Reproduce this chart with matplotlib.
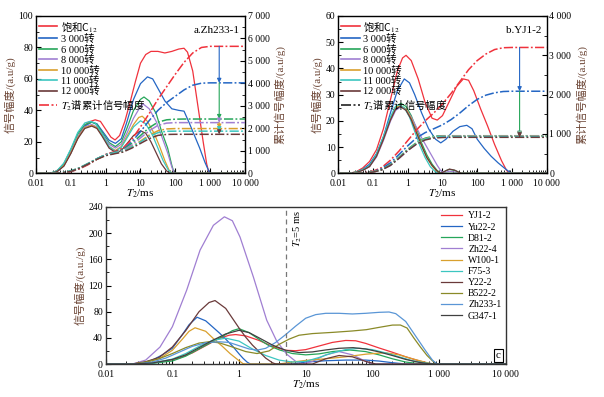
import matplotlib
matplotlib.use("Agg")
import matplotlib.pyplot as plt
import numpy as np
from matplotlib.lines import Line2D
from matplotlib.ticker import MultipleLocator, LogLocator, NullFormatter

plt.rcParams["font.family"] = ["Liberation Serif", "Noto Sans CJK SC", "DejaVu Sans"]
plt.rcParams["mathtext.fontset"] = "stix"

# ---- data: (log10 T2 [ms], amplitude) ----
# panel a, Zh233-1 (also the Zh233-1 curve in panel c)
A_SAT = [(-2, 0), (-1.6, 0), (-1.5, 0.5), (-1.3, 3), (-1.1, 9), (-0.9, 18), (-0.7, 27), (-0.5, 32.5),
         (-0.3, 34), (-0.15, 33), (0.0, 28), (0.15, 23), (0.27, 21.2), (0.4, 24), (0.55, 33), (0.7, 45),
         (0.85, 58), (1.0, 70), (1.15, 75.5), (1.3, 77.5), (1.5, 77.5), (1.7, 76.5), (1.9, 77.5), (2.1, 79),
         (2.25, 79.5), (2.35, 77), (2.5, 65), (2.6, 50), (2.7, 35), (2.8, 20), (2.9, 6), (2.97, 0), (4, 0)]
A_3000 = [(-2, 0), (-1.6, 0), (-1.4, 1), (-1.2, 5), (-1.0, 13), (-0.8, 23), (-0.6, 30), (-0.4, 32.5),
          (-0.25, 31.5), (-0.1, 27), (0.1, 21), (0.28, 19), (0.45, 22), (0.6, 32), (0.8, 47), (1.0, 57),
          (1.2, 61.3), (1.35, 60), (1.5, 54), (1.7, 46), (1.9, 41), (2.1, 40), (2.25, 39.5), (2.4, 32),
          (2.55, 24), (2.7, 16), (2.85, 7), (2.98, 0.5), (3.0, 0), (4, 0)]
A_6000 = [(-2, 0), (-1.6, 0), (-1.4, 1.5), (-1.2, 6), (-1.0, 15), (-0.8, 25), (-0.6, 31), (-0.4, 32.5),
          (-0.25, 31), (-0.1, 26), (0.1, 19.5), (0.28, 17), (0.45, 20), (0.6, 28), (0.8, 40), (1.0, 47),
          (1.1, 48.5), (1.25, 46), (1.45, 38), (1.6, 27), (1.78, 16), (1.9, 5), (1.97, 0), (4, 0)]
A_8000 = [(-2, 0), (-1.6, 0), (-1.4, 1), (-1.2, 5), (-1.0, 13.5), (-0.8, 23), (-0.6, 29.5), (-0.4, 31),
          (-0.25, 29.5), (-0.1, 25), (0.1, 18.5), (0.28, 16), (0.45, 18.5), (0.6, 25), (0.8, 35), (1.0, 42.5),
          (1.08, 44), (1.25, 41), (1.45, 33), (1.6, 24), (1.78, 13), (1.9, 4), (1.97, 0), (4, 0)]
A_10000 = [(-2, 0), (-1.6, 0), (-1.4, 1), (-1.2, 5), (-1.0, 13), (-0.8, 22.5), (-0.6, 29), (-0.4, 30.5),
           (-0.25, 29), (-0.1, 24), (0.1, 17), (0.28, 14.5), (0.45, 17), (0.6, 23), (0.8, 31), (0.95, 35.5),
           (1.05, 36.3), (1.2, 33), (1.4, 25), (1.55, 17), (1.7, 8), (1.82, 2), (1.9, 0), (4, 0)]
A_11000 = [(-2, 0), (-1.6, 0), (-1.4, 1.5), (-1.2, 6.5), (-1.0, 15.5), (-0.8, 26), (-0.6, 32), (-0.45, 33),
           (-0.3, 32), (-0.1, 25), (0.1, 17), (0.28, 14), (0.45, 16.5), (0.6, 22), (0.8, 29.5), (1.0, 33.4),
           (1.15, 31.5), (1.35, 24), (1.5, 16), (1.65, 8), (1.8, 2), (1.9, 0), (4, 0)]
A_12000 = [(-2, 0), (-1.6, 0), (-1.4, 1), (-1.2, 4.5), (-1.0, 12.5), (-0.8, 22), (-0.6, 28.5), (-0.4, 30),
           (-0.25, 28.5), (-0.1, 23.5), (0.1, 16), (0.3, 13), (0.45, 14.5), (0.6, 18.5), (0.8, 24), (1.0, 27),
           (1.15, 25.5), (1.3, 20), (1.45, 13), (1.6, 6), (1.75, 1.5), (1.85, 0), (4, 0)]

# cumulative curves, shared log10 T2 grid
CUM_LOG = [-2.0, -1.5, -1.25, -1.0, -0.75, -0.5, -0.25, 0.0, 0.25, 0.5, 0.75,
           1.0, 1.25, 1.5, 1.75, 2.0, 2.25, 2.5, 2.75, 3.0, 4.0]
A_CUM_SAT = [0, 0, 14, 70, 196, 385, 630, 840, 966, 1120, 1505, 2065, 2660, 3290, 3850, 4410, 4935, 5355, 5600, 5650, 5650]
A_CUM_3000 = [0, 0, 21, 84, 224, 420, 644, 826, 924, 1050, 1400, 1855, 2345, 2800, 3150, 3430, 3710, 3920, 4010, 4025, 4025]
A_CUM_6000 = [0, 0, 28, 105, 245, 441, 651, 826, 931, 1050, 1330, 1680, 2030, 2275, 2380, 2408, 2415, 2415, 2415, 2415, 2415]
A_CUM_8000 = [0, 0, 21, 91, 231, 427, 637, 812, 910, 1015, 1260, 1575, 1890, 2135, 2233, 2255, 2255, 2255, 2255, 2255, 2255]
A_CUM_10000 = [0, 0, 21, 91, 231, 420, 630, 798, 889, 980, 1190, 1435, 1700, 1890, 1974, 1990, 1990, 1990, 1990, 1990, 1990]
A_CUM_11000 = [0, 0, 28, 105, 245, 441, 651, 819, 903, 980, 1176, 1400, 1645, 1806, 1869, 1875, 1875, 1875, 1875, 1875, 1875]
A_CUM_12000 = [0, 0, 21, 84, 224, 413, 623, 784, 868, 945, 1120, 1330, 1540, 1687, 1729, 1735, 1735, 1735, 1735, 1735, 1735]

# panel b, YJ1-2 (saturated curve is also YJ1-2 in panel c)
B_SAT = [(-2, 0), (-1.7, 0), (-1.5, 0.5), (-1.3, 2), (-1.1, 4.5), (-0.9, 9), (-0.7, 17), (-0.5, 28), (-0.3, 39),
         (-0.15, 44), (-0.05, 45), (0.1, 43), (0.3, 36), (0.5, 27), (0.7, 21), (0.85, 20.3), (1.0, 22),
         (1.2, 27.5), (1.4, 33), (1.6, 36), (1.75, 35.5), (1.9, 31.5), (2.1, 24.5), (2.3, 18), (2.5, 11),
         (2.7, 4.8), (2.85, 1), (2.95, 0), (4, 0)]
B_3000 = [(-2, 0), (-1.7, 0), (-1.5, 0.4), (-1.3, 1.5), (-1.1, 3.5), (-0.9, 7.5), (-0.7, 14), (-0.5, 23),
          (-0.3, 31.5), (-0.1, 36), (0.05, 34.5), (0.2, 30), (0.4, 23), (0.6, 17), (0.8, 13), (0.95, 11.6),
          (1.1, 13), (1.3, 16), (1.5, 17.8), (1.7, 18.3), (1.85, 17), (2.0, 13), (2.2, 9.5), (2.4, 6.5),
          (2.6, 4), (2.8, 1.8), (2.95, 0.3), (3.0, 0), (4, 0)]
B_6000 = [(-2, 0), (-1.7, 0), (-1.5, 0.4), (-1.3, 1.3), (-1.1, 2.8), (-0.9, 7), (-0.7, 13.5), (-0.5, 20.5),
          (-0.35, 25.3), (-0.2, 26.7), (-0.05, 25.5), (0.1, 22), (0.25, 17), (0.4, 11.5), (0.55, 7),
          (0.7, 3.5), (0.85, 1), (0.95, 0.2), (1.0, 0), (1.1, 1.0), (1.2, 1.5), (1.35, 1.1), (1.5, 0.2), (1.55, 0), (4, 0)]
B_8000 = [(-2, 0), (-1.7, 0), (-1.5, 0.3), (-1.3, 1.1), (-1.1, 2.5), (-0.9, 6.2), (-0.7, 12.5), (-0.5, 19.8),
          (-0.35, 24), (-0.2, 25.3), (-0.05, 24.5), (0.1, 21.5), (0.25, 17.5), (0.4, 13.5), (0.55, 10),
          (0.7, 6.5), (0.85, 3), (0.95, 1), (1.05, 0.2), (1.1, 0.4), (1.2, 0.8), (1.35, 0.5), (1.5, 0), (4, 0)]
B_10000 = [(-2, 0), (-1.7, 0), (-1.5, 0.4), (-1.3, 1.2), (-1.1, 2.7), (-0.9, 6.8), (-0.7, 13.2), (-0.5, 20.7),
           (-0.35, 25), (-0.22, 26), (-0.05, 24.5), (0.1, 21), (0.25, 16), (0.4, 10.5), (0.55, 6),
           (0.7, 2.8), (0.85, 0.6), (0.92, 0), (4, 0)]
B_11000 = [(-2, 0), (-1.7, 0), (-1.5, 0.4), (-1.3, 1.3), (-1.1, 2.9), (-0.9, 7.2), (-0.7, 14), (-0.5, 21.5),
           (-0.35, 25.6), (-0.25, 26.2), (-0.1, 25), (0.05, 21.5), (0.2, 16), (0.35, 10.5), (0.5, 6),
           (0.65, 2.5), (0.8, 0.5), (0.87, 0), (4, 0)]
B_12000 = [(-2, 0), (-1.7, 0), (-1.5, 0.3), (-1.3, 1.1), (-1.1, 2.6), (-0.9, 6.5), (-0.7, 13), (-0.5, 20.3),
           (-0.35, 24.5), (-0.22, 25.5), (-0.05, 24), (0.1, 20.5), (0.25, 15.5), (0.4, 10.5), (0.55, 6),
           (0.7, 3), (0.85, 0.8), (0.95, 0), (1.1, 1.0), (1.2, 1.6), (1.35, 1.2), (1.5, 0.2), (1.55, 0), (4, 0)]

B_CUM_SAT = [0, 0, 13, 53, 147, 333, 567, 833, 1100, 1333, 1533, 1767, 2033, 2333, 2633, 2867, 3033, 3147, 3193, 3200, 3200]
B_CUM_3000 = [0, 0, 10, 40, 120, 267, 480, 700, 900, 1033, 1133, 1233, 1367, 1533, 1720, 1880, 1987, 2047, 2080, 2087, 2087]
B_CUM_6000 = [0, 0, 7, 33, 93, 220, 410, 613, 780, 893, 945, 955, 955, 955, 955, 955, 955, 955, 955, 955, 955]
B_CUM_8000 = [0, 0, 7, 30, 87, 200, 380, 580, 747, 867, 927, 947, 950, 950, 950, 950, 950, 950, 950, 950, 950]
B_CUM_10000 = [0, 0, 7, 33, 93, 213, 400, 600, 767, 877, 927, 940, 940, 940, 940, 940, 940, 940, 940, 940, 940]
B_CUM_11000 = [0, 0, 7, 33, 93, 213, 400, 597, 760, 870, 923, 935, 935, 935, 935, 935, 935, 935, 935, 935, 935]
B_CUM_12000 = [0, 0, 7, 30, 87, 200, 383, 580, 740, 847, 897, 910, 915, 915, 915, 915, 915, 915, 915, 915, 915]

# panel c, other samples
C_YU22 = [(-2, 0), (-1.6, 0), (-1.45, 1.5), (-1.3, 6), (-1.15, 14), (-1.0, 24), (-0.85, 45), (-0.75, 60),
          (-0.63, 71.5), (-0.5, 66), (-0.4, 57), (-0.29, 47), (-0.19, 37), (-0.09, 26.5), (0.0, 15.5),
          (0.06, 8.7), (0.12, 3), (0.17, 0), (0.8, 0), (1.0, 3), (1.3, 5), (1.6, 6), (1.9, 6), (2.1, 4.5),
          (2.3, 2), (2.5, 0), (4, 0)]
C_D81 = [(-2, 0), (-1.6, 0), (-1.3, 1), (-1.0, 4.6), (-0.8, 12), (-0.585, 24), (-0.4, 34), (-0.285, 40),
         (-0.1, 51), (0.0, 54), (0.15, 48), (0.31, 37), (0.45, 28), (0.61, 21.4), (0.8, 16), (1.0, 14),
         (1.2, 15.5), (1.4, 19), (1.66, 21.4), (1.9, 19), (2.1, 14), (2.3, 8), (2.5, 3), (2.7, 0.5), (2.8, 0), (4, 0)]
C_ZH22 = [(-2, 0), (-1.6, 0), (-1.4, 6), (-1.185, 26), (-1.0, 57), (-0.785, 113), (-0.585, 174), (-0.385, 212),
          (-0.22, 225), (-0.1, 219), (0.015, 194), (0.215, 133), (0.415, 67), (0.565, 35), (0.715, 15),
          (0.85, 4), (0.95, 0), (1.1, 4), (1.3, 14), (1.5, 19), (1.7, 14), (1.9, 4), (2.0, 0), (4, 0)]
C_W100 = [(-2, 0), (-1.6, 0), (-1.4, 2.5), (-1.2, 8), (-1.0, 21), (-0.85, 38), (-0.75, 50), (-0.66, 55.4),
          (-0.5, 50), (-0.386, 39), (-0.25, 27), (-0.135, 16), (0.0, 5), (0.06, 0.5), (0.1, 0), (0.6, 0),
          (0.8, 3), (1.0, 5.5), (1.3, 8), (1.6, 11), (1.9, 15), (2.19, 17.3), (2.4, 14), (2.6, 8), (2.8, 2.5),
          (2.9, 0), (4, 0)]
C_F75 = [(-2, 0), (-1.6, 0), (-1.3, 1.5), (-1.0, 7.5), (-0.8, 16), (-0.6, 27), (-0.4, 36), (-0.2, 39.5),
         (0.0, 35), (0.2, 23), (0.4, 13), (0.6, 6), (0.8, 3), (1.0, 4), (1.2, 10), (1.4, 17), (1.6, 22),
         (1.8, 24), (2.0, 22), (2.2, 17), (2.4, 11), (2.6, 5), (2.8, 1.5), (2.95, 0), (4, 0)]
C_Y22 = [(-2, 0), (-1.6, 0), (-1.4, 3.5), (-1.2, 10), (-1.0, 26), (-0.8, 51), (-0.6, 80), (-0.45, 94),
         (-0.36, 97), (-0.2, 85), (0.0, 55), (0.1, 41), (0.2, 29), (0.3, 19), (0.4, 9), (0.5, 2), (0.55, 0),
         (1.1, 0), (1.3, 8), (1.5, 13), (1.7, 11), (1.9, 4), (2.05, 0), (4, 0)]
C_B522 = [(-2, 0), (-1.6, 0), (-1.4, 3), (-1.2, 8), (-1.0, 16), (-0.8, 25), (-0.6, 32), (-0.45, 34),
          (-0.3, 32.5), (-0.1, 26), (0.1, 19), (0.27, 16), (0.45, 20), (0.6, 30), (0.75, 38), (0.9, 44),
          (1.1, 46.5), (1.41, 48.4), (1.7, 50.5), (1.91, 52.5), (2.1, 56), (2.3, 59.5), (2.42, 59.6),
          (2.52, 55), (2.62, 40), (2.72, 26), (2.82, 13), (2.9, 5), (2.96, 0), (4, 0)]
C_G347 = [(-2, 0), (-1.6, 0), (-1.3, 1.5), (-1.0, 7), (-0.8, 14), (-0.6, 25), (-0.4, 36), (-0.2, 46),
          (0.0, 51.5), (0.15, 48), (0.3, 40), (0.5, 29), (0.7, 21), (0.9, 17.5), (1.1, 18.5), (1.3, 21.5),
          (1.5, 24), (1.71, 25), (1.9, 23), (2.1, 18.5), (2.3, 13), (2.5, 7), (2.7, 2.5), (2.85, 0.3), (2.9, 0), (4, 0)]

SPEED_LABELS = ["饱和C$_{12}$", "3 000转", "6 000转", "8 000转", "10 000转", "11 000转", "12 000转"]
CUM_LABEL = "$T_2$谱累计信号幅度"
SAMPLE_LABELS = ["YJ1-2", "Yu22-2", "D81-2", "Zh22-4", "W100-1", "F75-3", "Y22-2", "B522-2", "Zh233-1", "G347-1"]
X_TICKS = [0.01, 0.1, 1, 10, 100, 1000, 10000]
X_TICK_LABELS = ["0.01", "0.1", "1", "10", "100", "1 000", "10 000"]
T2_CUTOFF = 5  # ms
ARROW_T2_A = 1820
ARROW_T2_B = 1660

SPEED_COLORS = ["#f0323c", "#2466c4", "#26a65a", "#a07fd2", "#d9a02e", "#3cc6c0", "#6a3a3a"]
SAMPLE_COLORS = ["#f0323c", "#2466c4", "#26a65a", "#a07fd2", "#d9a02e", "#3cc6c0", "#6a3a3a",
                 "#8a8a28", "#5a96d6", "#404040"]
LABEL_COLOR = "#6b4434"
CUM_STYLE = (0, (6, 1.5, 1.2, 1.5))


def curve(ax, pts, color, **kw):
    lx, y = zip(*pts)
    ax.plot(10 ** np.array(lx), y, color=color, lw=0.9, **kw)


def style_axes(ax):
    ax.set_xscale("log")
    ax.set_xlim(0.01, 10000)
    ax.set_xticks(X_TICKS, X_TICK_LABELS)
    ax.xaxis.set_minor_locator(LogLocator(base=10, subs=np.arange(2, 10), numticks=20))
    ax.xaxis.set_minor_formatter(NullFormatter())
    ax.tick_params(which="both", direction="in", labelsize=7, pad=2)
    ax.tick_params(axis="x", which="major", pad=4)
    ax.tick_params(which="major", length=3.5, width=0.8)
    ax.tick_params(which="minor", length=2, width=0.6)
    for s in ax.spines.values():
        s.set_linewidth(1.0)
        s.set_color("#333333")
    ax.set_xlabel("$T_2$/ms", fontsize=8, labelpad=0)


def speed_panel(ax, spectra, cums, ylim, ymaj, rlim, cum_colors, tag, arrow_t2, cum_legend_color):
    style_axes(ax)
    ax.set_ylim(0, ylim)
    ax.yaxis.set_major_locator(MultipleLocator(ymaj))
    ax.yaxis.set_minor_locator(MultipleLocator(ymaj / 2))
    ax.set_ylabel("信号幅度/(a.u/g)", fontsize=8, color=LABEL_COLOR, labelpad=2)
    for pts, c in zip(spectra, SPEED_COLORS):
        curve(ax, pts, c)
    ax2 = ax.twinx()
    ax2.set_ylim(0, rlim)
    ax2.yaxis.set_major_locator(MultipleLocator(1000))
    ax2.yaxis.set_minor_locator(MultipleLocator(500))
    ax2.set_yticks(np.arange(0, rlim + 1, 1000),
                   ["0" if v == 0 else f"{v // 1000} 000" for v in range(0, rlim + 1, 1000)])
    ax2.tick_params(which="both", direction="in", labelsize=7, pad=2)
    ax2.tick_params(which="major", length=3.5, width=0.8)
    ax2.tick_params(which="minor", length=2, width=0.6)
    ax2.set_ylabel("累计信号幅度/(a.u/g)", fontsize=8, color=LABEL_COLOR, rotation=90, labelpad=3)
    x = 10 ** np.array(CUM_LOG)
    for cum, c in zip(cums, cum_colors):
        ax2.plot(x, cum, color=c, lw=1.1, linestyle=CUM_STYLE)
    # arrows between final plateaus
    finals = [cum[-1] for cum in cums]
    for i in range(len(finals) - 1):
        ax2.annotate("", xy=(arrow_t2, finals[i + 1]), xytext=(arrow_t2, finals[i]),
                     arrowprops=dict(arrowstyle="-|>", color=cum_colors[i + 1], lw=0.8,
                                     mutation_scale=6, shrinkA=0, shrinkB=0))
    handles = [Line2D([], [], color=c, lw=1.2) for c in SPEED_COLORS]
    handles.append(Line2D([], [], color=cum_legend_color, lw=1.2, linestyle=CUM_STYLE))
    leg = ax2.legend(handles, SPEED_LABELS + [CUM_LABEL], loc="upper left", bbox_to_anchor=(-0.005, 1.0),
                     frameon=False, fontsize=7.5, handlelength=1.8, handletextpad=0.35,
                     labelspacing=0.04, borderaxespad=0.15, borderpad=0.2)
    for t in leg.get_texts():
        if "$" in t.get_text():
            t.set_fontfamily("Noto Sans CJK SC")
    ax2.text(0.975, 0.91, tag, transform=ax2.transAxes, ha="right", va="center", fontsize=8)
    return ax2


fig = plt.figure(figsize=(6.04, 3.97), dpi=100)
ax_a = fig.add_axes([0.0596, 0.5635, 0.346, 0.3962])
ax_b = fig.add_axes([0.5601, 0.5635, 0.345, 0.3962])
ax_c = fig.add_axes([0.175, 0.0831, 0.6623, 0.3955])

speed_panel(ax_a, [A_SAT, A_3000, A_6000, A_8000, A_10000, A_11000, A_12000],
            [A_CUM_SAT, A_CUM_3000, A_CUM_6000, A_CUM_8000, A_CUM_10000, A_CUM_11000, A_CUM_12000],
            100, 20, 7000, SPEED_COLORS, "a.Zh233-1", ARROW_T2_A, SPEED_COLORS[0])
speed_panel(ax_b, [B_SAT, B_3000, B_6000, B_8000, B_10000, B_11000, B_12000],
            [B_CUM_SAT, B_CUM_3000, B_CUM_6000, B_CUM_8000, B_CUM_10000, B_CUM_11000, B_CUM_12000],
            60, 10, 4000, SPEED_COLORS, "b.YJ1-2", ARROW_T2_B, "#222222")

# panel c
style_axes(ax_c)
ax_c.set_ylim(0, 240)
ax_c.yaxis.set_major_locator(MultipleLocator(40))
ax_c.yaxis.set_minor_locator(MultipleLocator(20))
ax_c.set_ylabel("信号幅度/(a.u./g)", fontsize=8, color=LABEL_COLOR, labelpad=2)
sample_curves = [B_SAT, C_YU22, C_D81, C_ZH22, C_W100, C_F75, C_Y22, C_B522, A_SAT, C_G347]
for pts, c, lab in zip(sample_curves, SAMPLE_COLORS, SAMPLE_LABELS):
    curve(ax_c, pts, c, label=lab)
ax_c.axvline(T2_CUTOFF, color="#777777", lw=0.9, dashes=(4, 3))
ax_c.text(T2_CUTOFF * 1.22, 236, "$T_2$=5 ms", rotation=90, ha="left", va="top", fontsize=7.5)
ax_c.legend(loc="upper right", frameon=False, fontsize=7, handlelength=2.2, handletextpad=0.6,
            labelspacing=0.22, borderaxespad=0.25, borderpad=0.2)
ax_c.text(0.982, 0.055, "c", transform=ax_c.transAxes, ha="center", va="center", fontsize=8,
          bbox=dict(boxstyle="square,pad=0.2", fc="white", ec="black", lw=0.8))

fig.savefig("out.png", dpi=100)
